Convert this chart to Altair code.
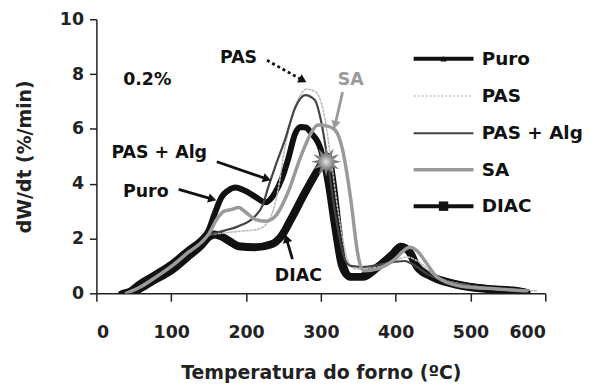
import math
import numpy as np
import pandas as pd
import altair as alt

# ---------------- data ----------------
puro_t = [33, 45, 57, 75, 101, 123, 140, 150, 158, 167, 176, 186, 198, 212, 226, 239, 248, 256, 266, 273, 280, 287, 300, 309, 319, 327, 336, 353, 369, 389, 406, 415, 423, 433, 450, 473, 508, 548, 575]
puro_v = [0, 0.1, 0.35, 0.65, 1.1, 1.6, 1.95, 2.3, 2.9, 3.5, 3.75, 3.86, 3.75, 3.53, 3.32, 3.68, 4.2, 4.87, 5.85, 6.07, 6.05, 5.85, 5.24, 4.04, 2.23, 1.0, 0.63, 0.63, 0.89, 1.18, 1.72, 1.6, 1.18, 0.82, 0.6, 0.42, 0.24, 0.13, 0.05]

pas_t = [40, 60, 80, 101, 123, 140, 150, 170, 190, 216, 230, 243, 250, 262, 272, 281, 293, 303, 312, 323, 336, 346, 376, 416, 429, 455, 495, 562, 588]
pas_v = [0, 0.25, 0.6, 1.0, 1.5, 1.85, 2.12, 2.2, 2.26, 2.34, 2.63, 3.8, 5.0, 6.5, 7.2, 7.45, 7.35, 6.7, 5.2, 3.0, 1.2, 0.89, 0.96, 1.32, 1.18, 0.6, 0.31, 0.13, 0.09]

pasalg_t = [40, 60, 80, 101, 123, 140, 150, 170, 190, 212, 222, 230, 239, 252, 266, 279, 292, 300, 309, 319, 332, 340, 356, 382, 412, 422, 442, 469, 508, 562]
pasalg_v = [0, 0.25, 0.6, 1.0, 1.5, 1.85, 2.12, 2.28, 2.45, 2.81, 3.2, 3.9, 4.62, 5.6, 6.79, 7.23, 7.05, 6.32, 4.87, 2.95, 1.25, 1.0, 0.96, 1.07, 1.18, 1.07, 0.71, 0.42, 0.24, 0.09]

sa_t = [40, 60, 80, 101, 123, 140, 150, 161, 170, 181, 190, 200, 212, 226, 239, 256, 273, 287, 296, 309, 319, 329, 340, 349, 353, 358, 376, 396, 419, 429, 442, 455, 486, 535, 575]
sa_v = [0, 0.25, 0.6, 1.0, 1.5, 1.85, 2.16, 2.7, 2.99, 3.06, 3.13, 2.95, 2.7, 2.63, 2.81, 3.68, 4.98, 5.85, 6.14, 6.1, 5.96, 5.24, 3.42, 1.5, 1.0, 0.82, 0.89, 1.18, 1.68, 1.54, 1.07, 0.6, 0.27, 0.16, 0.09]

diac_t = [38, 50, 60, 75, 101, 123, 140, 150, 158, 167, 178, 190, 212, 234, 247, 260, 279, 296, 305, 309, 316, 323, 329, 339, 356, 376, 396, 407, 419, 429, 449, 482, 522, 562, 575]
diac_v = [0, 0.05, 0.2, 0.45, 0.85, 1.35, 1.75, 2.05, 2.15, 2.08, 1.9, 1.72, 1.68, 1.79, 2.08, 2.7, 3.68, 4.5, 4.87, 4.98, 3.97, 2.34, 1.07, 0.6, 0.6, 0.96, 1.43, 1.7, 1.5, 0.96, 0.6, 0.31, 0.16, 0.09, 0.02]

series_names = ["Puro", "PAS", "PAS + Alg", "SA", "DIAC"]

# annotations
note_text = ["0.2%", "PAS", "SA", "PAS + Alg", "Puro", "DIAC"]
note_x = [68, 190, 340, 84, 66, 270]
note_y = [7.77, 8.6, 7.77, 5.13, 3.71, 0.63]

arrow_x1 = [228, 329, 161, 110, 262]
arrow_y1 = [8.5, 7.34, 4.8, 3.79, 1.25]
arrow_x2 = [276, 319, 228, 155, 254]
arrow_y2 = [7.77, 6.14, 4.17, 3.44, 2.0]

star_x = [307]
star_y = [4.8]

# legend placement (data units)
leg_x1, leg_x2, leg_lab = 424, 504, 515
leg_y = [8.56, 7.2, 5.84, 4.51, 3.18]

# ---------------- styles ----------------
W, H = 452, 276
PX_T, PX_V = W / 600.0, H / 10.0
FONT = "DejaVu Sans"
FS = 17.5

styles = {
    "Puro": dict(color="#111111", strokeWidth=6),
    "PAS": dict(color="#bdbdbd", strokeWidth=1.6, strokeDash=[2, 2]),
    "PAS + Alg": dict(color="#444444", strokeWidth=2.2),
    "SA": dict(color="#9a9a9a", strokeWidth=3.5),
    "DIAC": dict(color="#111111", strokeWidth=8),
}
data = {
    "Puro": (puro_t, puro_v),
    "PAS": (pas_t, pas_v),
    "PAS + Alg": (pasalg_t, pasalg_v),
    "SA": (sa_t, sa_v),
    "DIAC": (diac_t, diac_v),
}

xs = alt.Scale(domain=[0, 600], nice=False)
ys = alt.Scale(domain=[0, 10], nice=False)

layers = []

base_df = pd.DataFrame({"T": [0, 600], "v": [0, 10]})
axes = alt.Chart(base_df).mark_point(opacity=0).encode(
    x=alt.X("T:Q", scale=xs, title="Temperatura do forno (ºC)",
            axis=alt.Axis(values=list(range(0, 601, 50)),
                          labelExpr="datum.value % 100 == 0 ? datum.label : ''",
                          tickSize=8, labelPadding=22, titlePadding=23)),
    y=alt.Y("v:Q", scale=ys, title="dW/dt (%/min)",
            axis=alt.Axis(values=list(range(0, 11)),
                          labelExpr="datum.value % 2 == 0 ? datum.label : ''",
                          tickSize=7, labelPadding=6, titlePadding=25)),
)
layers.append(axes)

for name in ["DIAC", "Puro", "PAS", "PAS + Alg", "SA"]:
    t, v = data[name]
    df = pd.DataFrame({"T": t, "v": v, "i": range(len(t))})
    st = styles[name]
    kw = dict(color=st["color"], strokeWidth=st["strokeWidth"], strokeJoin="round", strokeCap="round",
              clip=True, interpolate="monotone")
    if "strokeDash" in st:
        kw["strokeDash"] = st["strokeDash"]
    layers.append(alt.Chart(df).mark_line(**kw).encode(
        x=alt.X("T:Q", scale=xs), y=alt.Y("v:Q", scale=ys), order="i:Q"))

# star
n = 12
pts = []
for k in range(2 * n):
    r = 1.0 if k % 2 == 0 else 0.5
    a = math.pi * k / n
    pts.append((r * math.sin(a), -r * math.cos(a)))
star_path = "M" + " L".join(f"{x:.3f},{y:.3f}" for x, y in pts) + " Z"
star_df = pd.DataFrame({"T": star_x, "v": star_y})
layers.append(alt.Chart(star_df).mark_point(
    shape=star_path, size=900, filled=True, strokeWidth=0, opacity=1,
    fill=alt.Gradient(gradient="radial", stops=[alt.GradientStop(color="#e6e6e6", offset=0),
                                                alt.GradientStop(color="#8a8a8a", offset=0.45),
                                                alt.GradientStop(color="#666666", offset=1)])
).encode(x=alt.X("T:Q", scale=xs), y=alt.Y("v:Q", scale=ys)))

# arrows
arrow_color = ["#111111", "#9a9a9a", "#111111", "#111111", "#111111"]
arrow_dash = [[3, 3], None, None, None, None]
for k in range(len(arrow_x1)):
    seg = pd.DataFrame({"T": [arrow_x1[k], arrow_x2[k]], "v": [arrow_y1[k], arrow_y2[k]], "i": [0, 1]})
    kw = dict(color=arrow_color[k], strokeWidth=2.8)
    if arrow_dash[k]:
        kw["strokeDash"] = arrow_dash[k]
    layers.append(alt.Chart(seg).mark_line(**kw).encode(
        x=alt.X("T:Q", scale=xs), y=alt.Y("v:Q", scale=ys), order="i:Q"))
    dx = (arrow_x2[k] - arrow_x1[k]) * PX_T
    dy = -(arrow_y2[k] - arrow_y1[k]) * PX_V
    ang = (math.degrees(math.atan2(dx, -dy)) + 360) % 360
    head = pd.DataFrame({"T": [arrow_x2[k]], "v": [arrow_y2[k]]})
    layers.append(alt.Chart(head).mark_point(
        shape="triangle-up", size=90, filled=True, color=arrow_color[k], opacity=1, angle=ang
    ).encode(x=alt.X("T:Q", scale=xs), y=alt.Y("v:Q", scale=ys)))

# annotation texts
note_color = ["#111111", "#111111", "#9a9a9a", "#111111", "#111111", "#111111"]
for k in range(len(note_text)):
    ndf = pd.DataFrame({"T": [note_x[k]], "v": [note_y[k]], "txt": [note_text[k]]})
    layers.append(alt.Chart(ndf).mark_text(
        font=FONT, fontWeight="bold", fontSize=FS, color=note_color[k], align="center", baseline="middle"
    ).encode(x=alt.X("T:Q", scale=xs), y=alt.Y("v:Q", scale=ys), text="txt:N"))

# legend (manual)
for k, name in enumerate(series_names):
    st = styles[name]
    ldf = pd.DataFrame({"T": [leg_x1], "T2": [leg_x2], "v": [leg_y[k]], "txt": [name], "Tl": [leg_lab]})
    sw = min(st["strokeWidth"], 4)
    kw = dict(color=st["color"], strokeWidth=sw)
    if "strokeDash" in st:
        kw["strokeDash"] = st["strokeDash"]
    layers.append(alt.Chart(ldf).mark_rule(**kw).encode(
        x=alt.X("T:Q", scale=xs), x2="T2:Q", y=alt.Y("v:Q", scale=ys)))
    layers.append(alt.Chart(ldf).mark_text(
        font=FONT, fontWeight="bold", fontSize=18.5, color="#111111", align="left", baseline="middle"
    ).encode(x=alt.X("Tl:Q", scale=xs), y=alt.Y("v:Q", scale=ys), text="txt:N"))

mk = pd.DataFrame({"T": [(leg_x1 + leg_x2) / 2] * 2, "v": [leg_y[0], leg_y[4]], "s": ["triangle-up", "square"], "sz": [40, 90]})
layers.append(alt.Chart(mk).mark_point(filled=True, color="#111111", opacity=1).encode(
    x=alt.X("T:Q", scale=xs), y=alt.Y("v:Q", scale=ys),
    shape=alt.Shape("s:N", scale=None, legend=None),
    size=alt.Size("sz:Q", scale=None, legend=None)))

chart = alt.layer(*layers).properties(
    width=W, height=H,
    autosize=alt.AutoSizeParams(type="none"),
    padding={"left": 89, "top": 10, "right": 45, "bottom": 92},
).configure_view(stroke=None).configure_axis(
    grid=False, domainColor="#222222", domainWidth=1.5, tickColor="#222222", tickWidth=1.5,
    labelFont=FONT, labelFontWeight="bold", labelFontSize=FS, labelColor="#222222",
    titleFont=FONT, titleFontWeight="bold", titleFontSize=19, titleColor="#222222",
)

chart.save("out.html", embed_options={"renderer": "svg", "actions": False})
